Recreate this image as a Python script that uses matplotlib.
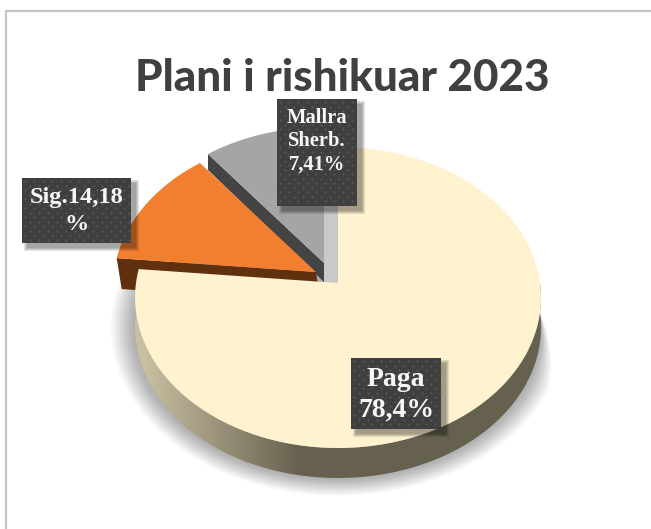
import numpy as np
import matplotlib
matplotlib.use("Agg")
import matplotlib.pyplot as plt
from matplotlib.patches import Rectangle, Polygon
from matplotlib.colors import LinearSegmentedColormap

TITLE = "Plani i rishikuar 2023"
categories = ["Paga", "Sigurime", "Mallra Sherb."]
label_texts = [["Paga", "78,4%"], ["Sig.14,18", "%"], ["Mallra", "Sherb.", "7,41%"]]
# Shares as they are drawn in the picture (the slice angles), clockwise from 12 o'clock
drawn_shares = [76.5, 12.9, 10.6]

colors_top = ["#fff2cf", "#f27f30", "#a5a5a5"]
explode_px = [(0, 0), (-22, -11), (-14, -20)]
label_boxes = [(351, 358, 90, 71), (22, 178, 109, 65), (277, 99, 80, 107)]
label_ys = [[380, 410], [198, 225], [118, 141, 165]]
label_sizes = [20, 17.6, 14.8]

CX, CY = 338, 283
B, A, K = 202, 149.1, 0.0963
DEPTH = 30

fig = plt.figure(figsize=(6.51, 5.29), dpi=100, facecolor="white")
ax = fig.add_axes([0, 0, 1, 1])
ax.axis("off")


def project(theta_frac, r=1.0):
    """theta_frac: 0..1 clockwise from top -> picture coordinates with perspective."""
    t = 2 * np.pi * np.asarray(theta_frac)
    x, y = r * np.sin(t), r * np.cos(t)
    d = 1 + K * y
    return CX + B * x / d, CY - A * y / d


def wedge(f0, f1, off=(0, 0)):
    f = np.linspace(f0, f1, 200)
    x, y = project(f)
    return np.r_[CX, x, CX] + off[0], np.r_[CY, y, CY] + off[1]


fr = np.cumsum([0] + drawn_shares) / sum(drawn_shares)
# frame
ax.plot([5.5, 5.5, 651], [529, 10.5, 10.5], color="#c6c6c6", lw=1.6, solid_joinstyle="miter", zorder=1)

# soft shadow of the pie
clip = Rectangle((107, 262), 480, 236, transform=ax.transData)
fx, fy = project(np.linspace(0, 1, 361))
n = 22
for i in range(n):
    s = 1 + 0.12 * (1 - i / (n - 1))
    w = np.where(fx > 338, np.clip((fy - 285) / 70, 0, 1), 1.0)
    sx = 338 + (fx - 338) * (1 + (s - 1) * w)
    sy = 328 + (fy - 298) * s
    p = ax.fill(sx, sy, color="#000000", alpha=0.015, lw=0, zorder=2)[0]
    p.set_clip_path(clip)

# outer wall of the main slice, shaded left to right
ff = np.linspace(0.25, 0.75, 300)
wx, wy = project(ff)
wall = Polygon(np.c_[np.r_[wx, wx[::-1]], np.r_[wy, wy[::-1] + DEPTH]], fc="none", ec="none",
               transform=ax.transData)
ax.add_patch(wall)
xl, xr = wx.min() - 2, wx.max() + 2
stops = np.interp(np.linspace(xl, xr, 512), [145, 300], [0, 1])
im = ax.imshow(stops[None, :], cmap=LinearSegmentedColormap.from_list("w2", ["#c8bfa0", "#66614f"]),
               extent=(xl, xr, 520, 280), aspect="auto", zorder=3, vmin=0, vmax=1)
im.set_clip_path(wall)
ax.set_xlim(0, 651)
ax.set_ylim(529, 0)

# cut face of main slice seen in the gap
gtx, gty = project(fr[0])
ax.fill([CX + explode_px[2][0], CX + 3, CX + 3, CX + explode_px[2][0]], [gty, gty, CY, CY],
        color="#c9c9c9", lw=0, zorder=3)

# grey slice: dark face + top
gx0, gy0 = project(fr[2])
ox, oy = explode_px[2]
ax.fill([CX + ox, gx0 + ox, gx0 + ox, CX + ox], [CY + oy, gy0 + oy, gy0 + oy + 16, CY + oy + 19],
        color="#444444", lw=0, zorder=4)
ax.fill(*wedge(fr[2], fr[3], explode_px[2]), color=colors_top[2], lw=0, zorder=5)

# orange slice: brown face + top
ox, oy = explode_px[1]
bx, by = project(fr[1])
ax.fill([CX + ox, bx + ox, bx + ox + 5, CX + ox + 5], [CY + oy, by + oy, by + oy + 31, CY + oy + 31],
        color="#61300f", lw=0, zorder=6)
ax.fill(*wedge(fr[1], fr[2], explode_px[1]), color=colors_top[1], lw=0, zorder=7)

# main slice top
ax.fill(*wedge(fr[0], fr[1]), color=colors_top[0], lw=0, zorder=8)

# labels
for (x, y, w, h), lines, ys, fs in zip(label_boxes, label_texts, label_ys, label_sizes):
    for g in (3, 2, 1, 0):
        ax.add_patch(Rectangle((x + 5 - g, y + 5 - g), w + 2 * g, h + 2 * g,
                               fc="black", ec="none", alpha=0.10, zorder=9))
    ax.add_patch(Rectangle((x, y), w, h, fc="#3f3f3f", ec="none", zorder=10))
    gx, gy = np.meshgrid(np.arange(x + 3, x + w - 1, 9.0), np.arange(y + 3, y + h - 1, 4.5))
    gx = gx + (np.arange(gx.shape[0])[:, None] % 2) * 4.5
    keep = gx < x + w - 1
    ax.scatter(gx[keep], gy[keep], s=2.2, color="#5b5b5b", lw=0, zorder=11)
    for line, ty in zip(lines, ys):
        ax.text(x + w / 2, ty, line, ha="center", va="center", color="#f6f6f6", fontsize=fs,
                fontweight="bold", family="Liberation Serif", zorder=12)

ax.text(342, 91, TITLE, ha="center", va="baseline", color="#404040", fontsize=31.7,
        fontweight="black", family="Lato", zorder=12)

fig.savefig("out.png", dpi=100, facecolor="white")
